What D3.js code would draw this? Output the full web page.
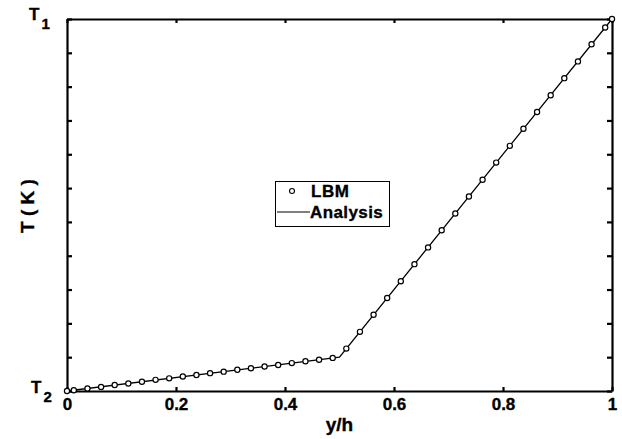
<!DOCTYPE html>
<html>
<head>
<meta charset="utf-8">
<script src="https://cdn.jsdelivr.net/npm/d3@7"></script>
<style>
  body { margin: 0; background: #fff; }
  text { font-family: "Liberation Sans", Arial, sans-serif; font-weight: bold; fill: #000; stroke: #000; stroke-width: 0.35px; }
</style>
</head>
<body>
<script>
// LBM points (y/h, dimensionless T)
var lbmX = [0, 0.0125, 0.0375, 0.0625, 0.0875, 0.1125, 0.1375, 0.1625, 0.1875, 0.2125, 0.2375,
	0.2625, 0.2875, 0.3125, 0.3375, 0.3625, 0.3875, 0.4125, 0.4375, 0.4625, 0.4875,
	0.5125, 0.5375, 0.5625, 0.5875, 0.6125, 0.6375, 0.6625, 0.6875, 0.7125, 0.7375,
	0.7625, 0.7875, 0.8125, 0.8375, 0.8625, 0.8875, 0.9125, 0.9375, 0.9625, 0.9875, 1];
var lbmT = [0, 0.002, 0.007, 0.011, 0.016, 0.020, 0.025, 0.030, 0.034, 0.039, 0.043,
	0.048, 0.052, 0.057, 0.061, 0.066, 0.070, 0.075, 0.080, 0.084, 0.089,
	0.114, 0.159, 0.205, 0.250, 0.295, 0.341, 0.386, 0.432, 0.477, 0.523,
	0.568, 0.614, 0.659, 0.705, 0.750, 0.795, 0.841, 0.886, 0.932, 0.977, 1];

// analytical solution (piecewise linear)
var anaX = [0, 0.5, 1];
var anaT = [0, 0.0909, 1];

var xTicks = [0, 0.2, 0.4, 0.6, 0.8, 1];
var xTickLabels = ["0", "0.2", "0.4", "0.6", "0.8", "1"];
var yTicks = [0, 1/11, 2/11, 3/11, 4/11, 5/11, 6/11, 7/11, 8/11, 9/11, 10/11, 1];

var W = 622, H = 439;
var x = d3.scaleLinear().domain([0, 1]).range([67, 612]);
var y = d3.scaleLinear().domain([0, 1]).range([391, 19]);

var svg = d3.select("body").append("svg")
	.attr("width", W)
	.attr("height", H);

svg.append("rect").attr("width", W).attr("height", H).attr("fill", "#fff");

//------------------------------ axes ------------------------------
function styleAxis(g) {
	g.select(".domain").attr("stroke", "#000").attr("stroke-width", 2.2);
	g.selectAll(".tick line").attr("stroke", "#000").attr("stroke-width", 2.2);
	g.selectAll(".tick text")
		.style("font-size", "17px")
		.style("font-family", "'Liberation Sans', Arial, sans-serif")
		.style("font-weight", "bold")
		.attr("stroke", "#000").attr("stroke-width", 0.35);
}

svg.append("g")
	.attr("transform", "translate(0," + y(0) + ")")
	.call(d3.axisBottom(x).tickValues(xTicks).tickFormat((d, i) => xTickLabels[i])
		.tickSizeInner(-4).tickSizeOuter(0).tickPadding(7))
	.call(styleAxis);

svg.append("g")
	.attr("transform", "translate(0," + y(1) + ")")
	.call(d3.axisTop(x).tickValues(xTicks).tickFormat("").tickSizeInner(-4).tickSizeOuter(0))
	.call(styleAxis);

svg.append("g")
	.attr("transform", "translate(" + x(0) + ",0)")
	.call(d3.axisLeft(y).tickValues(yTicks).tickFormat("").tickSizeInner(-5).tickSizeOuter(0))
	.call(styleAxis);

svg.append("g")
	.attr("transform", "translate(" + x(1) + ",0)")
	.call(d3.axisRight(y).tickValues(yTicks).tickFormat("").tickSizeInner(-5).tickSizeOuter(0))
	.call(styleAxis);

// T1 / T2 labels
function tLabel(sub, tx, ty) {
	var t = svg.append("text").attr("x", tx).attr("y", ty).style("font-size", "17px");
	t.append("tspan").text("T");
	t.append("tspan").attr("dx", 2).attr("dy", 9).style("font-size", "15px").text(sub);
}
tLabel("1", 29, y(1) + 1);
tLabel("2", 31, y(0) + 2);

// axis titles
svg.append("text")
	.attr("x", (x(0) + x(1)) / 2)
	.attr("y", 431)
	.attr("text-anchor", "middle")
	.style("font-size", "19px")
	.text("y/h");

svg.append("text")
	.attr("transform", "translate(34," + 206 + ") rotate(-90)")
	.attr("text-anchor", "middle")
	.style("font-size", "19px")
	.text("T ( K )");

//------------------------------ data ------------------------------
var line = d3.line().x(d => x(d[0])).y(d => y(d[1]));

svg.append("path")
	.datum(anaX.map((d, i) => [d, anaT[i]]))
	.attr("d", line)
	.attr("fill", "none")
	.attr("stroke", "#000")
	.attr("stroke-width", 1.3);

svg.append("g").selectAll("circle")
	.data(lbmX.map((d, i) => [d, lbmT[i]]))
	.join("circle")
	.attr("cx", d => x(d[0]))
	.attr("cy", d => y(d[1]))
	.attr("r", 2.6)
	.attr("fill", "#fff")
	.attr("stroke", "#000")
	.attr("stroke-width", 1.2);

//------------------------------ legend ------------------------------
var legend = svg.append("g");
legend.append("rect")
	.attr("x", 275.5).attr("y", 181.5)
	.attr("width", 114).attr("height", 45)
	.attr("fill", "#fff")
	.attr("stroke", "#000")
	.attr("stroke-width", 1);

legend.append("circle")
	.attr("cx", 292).attr("cy", 191)
	.attr("r", 2.5)
	.attr("fill", "#fff")
	.attr("stroke", "#000")
	.attr("stroke-width", 1.1);
legend.append("text").attr("x", 311).attr("y", 197)
	.style("font-size", "17px").style("letter-spacing", "0.6px").text("LBM");

legend.append("line")
	.attr("x1", 277).attr("x2", 310)
	.attr("y1", 212).attr("y2", 212)
	.attr("stroke", "#000")
	.attr("stroke-width", 1.2);
legend.append("text").attr("x", 310).attr("y", 218)
	.style("font-size", "17px").style("letter-spacing", "0.4px").text("Analysis");
</script>
</body>
</html>
